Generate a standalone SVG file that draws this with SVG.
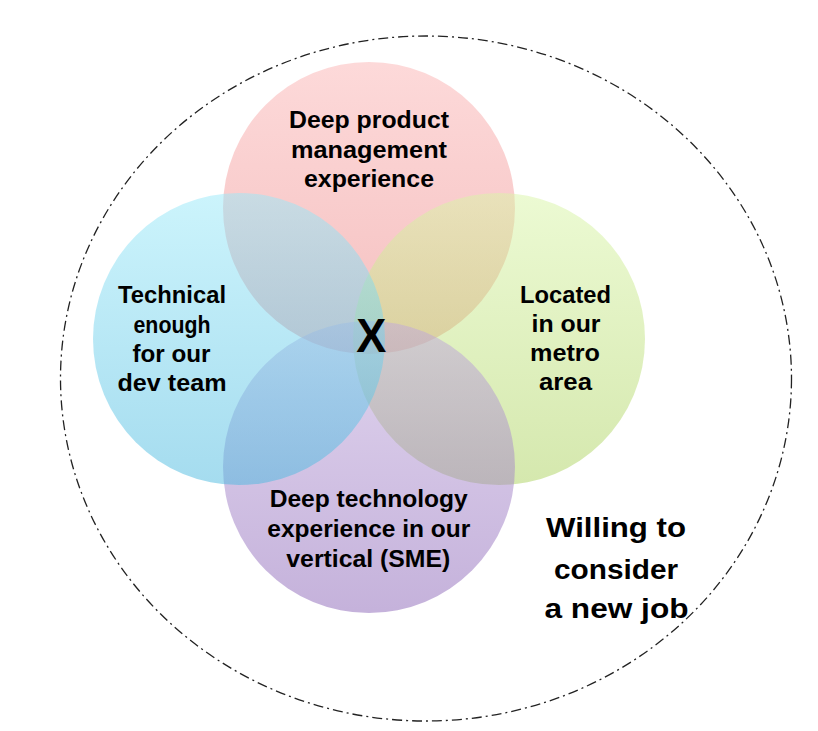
<svg xmlns="http://www.w3.org/2000/svg" width="818" height="731" viewBox="0 0 818 731">
<style>
.c{fill-opacity:0.5;stroke:none}
.t{font-family:"Liberation Sans",Arial,sans-serif;font-weight:bold;fill:#000;text-anchor:middle}
.s{font-size:23px}
.w{font-size:28px}
</style>
<defs>
<linearGradient id="gr" x1="0" y1="0" x2="0" y2="1"><stop offset="0" stop-color="#FBB4B4"/><stop offset="1" stop-color="#EA8080"/></linearGradient>
<linearGradient id="gg" x1="0" y1="0" x2="0" y2="1"><stop offset="0" stop-color="#D9F5A7"/><stop offset="1" stop-color="#ABD15D"/></linearGradient>
<linearGradient id="gp" x1="0" y1="0" x2="0" y2="1"><stop offset="0" stop-color="#C1A9DD"/><stop offset="1" stop-color="#8B65B7"/></linearGradient>
<linearGradient id="gc" x1="0" y1="0" x2="0" y2="1"><stop offset="0" stop-color="#99E9F9"/><stop offset="1" stop-color="#4BB9DF"/></linearGradient>
</defs>
<g id="outer">
<ellipse cx="426" cy="378.5" rx="365.5" ry="342.5" fill="none" stroke="#222" stroke-width="1.3" stroke-dasharray="10 4 2 4"/>
</g>
<g id="node-product">
<circle class="c" cx="369" cy="208" r="146" fill="url(#gr)"/>
</g>
<g id="node-metro">
<circle class="c" cx="499" cy="339" r="146" fill="url(#gg)"/>
</g>
<g id="node-sme">
<circle class="c" cx="369" cy="467" r="146" fill="url(#gp)"/>
</g>
<g id="node-technical">
<circle class="c" cx="239" cy="339" r="146" fill="url(#gc)"/>
</g>
<g id="labels">
<text class="t s"><tspan x="369" y="127.5" textLength="160" lengthAdjust="spacingAndGlyphs">Deep product</tspan><tspan x="369" y="158" textLength="156" lengthAdjust="spacingAndGlyphs">management</tspan><tspan x="369" y="187" textLength="130" lengthAdjust="spacingAndGlyphs">experience</tspan></text>
<text class="t s"><tspan x="172" y="303.3" textLength="108" lengthAdjust="spacingAndGlyphs">Technical</tspan><tspan x="172" y="332.7" textLength="77" lengthAdjust="spacingAndGlyphs">enough</tspan><tspan x="171.5" y="361.7" textLength="78" lengthAdjust="spacingAndGlyphs">for our</tspan><tspan x="172" y="390.7" textLength="109" lengthAdjust="spacingAndGlyphs">dev team</tspan></text>
<text class="t s"><tspan x="565.5" y="302.7" textLength="91" lengthAdjust="spacingAndGlyphs">Located</tspan><tspan x="566" y="331.7" textLength="69" lengthAdjust="spacingAndGlyphs">in our</tspan><tspan x="565" y="360.7" textLength="70" lengthAdjust="spacingAndGlyphs">metro</tspan><tspan x="565.5" y="390" textLength="53" lengthAdjust="spacingAndGlyphs">area</tspan></text>
<text class="t s"><tspan x="368.7" y="507.3" textLength="198" lengthAdjust="spacingAndGlyphs">Deep technology</tspan><tspan x="368.8" y="536.7" textLength="203" lengthAdjust="spacingAndGlyphs">experience in our</tspan><tspan x="368.3" y="566.7" textLength="164" lengthAdjust="spacingAndGlyphs">vertical (SME)</tspan></text>
<text class="t" font-size="48" x="371.2" y="351.7" textLength="30" lengthAdjust="spacingAndGlyphs">X</text>
<text class="t w"><tspan x="616" y="536.7" textLength="140" lengthAdjust="spacingAndGlyphs">Willing to</tspan><tspan x="616" y="579.3" textLength="124" lengthAdjust="spacingAndGlyphs">consider</tspan><tspan x="616.5" y="618.3" textLength="144" lengthAdjust="spacingAndGlyphs">a new job</tspan></text>
</g>
</svg>
